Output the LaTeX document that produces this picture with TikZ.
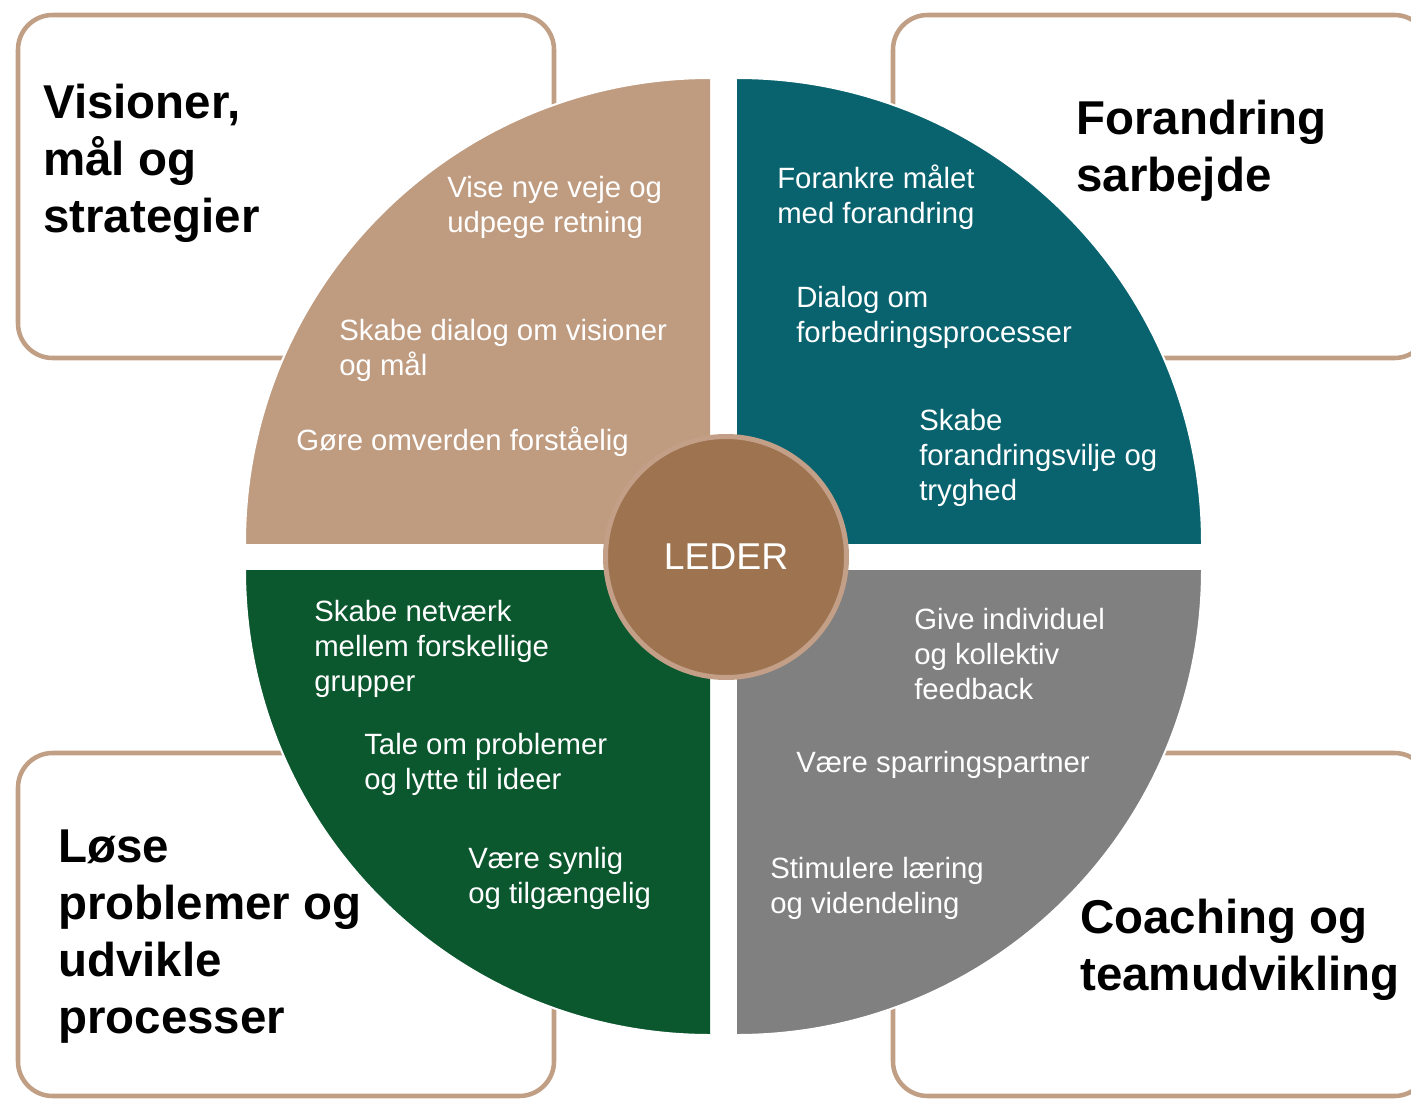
\documentclass[tikz,border=0pt]{standalone}
\usepackage{fontspec}
\setmainfont{Liberation Sans}
\usepackage{xcolor}
\usepackage{tikz}
\usetikzlibrary{positioning}
\definecolor{visionbrun}{HTML}{BF9B80}
\definecolor{forandringteal}{HTML}{08636F}
\definecolor{loesegroen}{HTML}{0B572E}
\definecolor{coachgraa}{HTML}{808080}
\definecolor{lederbrun}{HTML}{9E7350}
\definecolor{kantbrun}{HTML}{C29F86}
\definecolor{rammebrun}{HTML}{C19F85}

\begin{document}
\begin{tikzpicture}[
    x=0.75pt, y=-0.75pt,
    ramme/.style={rectangle, draw=rammebrun, line width=3.4pt, rounded corners=26pt,
        minimum width=402pt, minimum height=257.25pt, inner sep=0},
    kvadrant/.style={draw=white, line width=1.5pt},
    leder/.style={circle, fill=lederbrun, draw=kantbrun, line width=3.75pt,
        minimum size=180.75pt, inner sep=0, text=white, font=\fontsize{28}{33}\selectfont},
    punkt/.style={text=white, align=left, anchor=base west, inner sep=0,
        font=\fontsize{22}{26.25}\selectfont},
    overskrift/.style={text=black, align=left, anchor=base west, inner sep=0,
        font=\fontsize{35.6}{42.75}\selectfont\bfseries}]
\useasboundingbox (0,0) rectangle (1411,1099);
\clip (0,0) rectangle (1411,1099);

% rammer bag cirklen
\node[ramme] (visionramme)    at (286,186.5)  {};
\node[ramme] (forandrramme)   at (1161,186.5) {};
\node[ramme] (loeseramme)     at (286,924.5)  {};
\node[ramme] (coachramme)     at (1161,924.5) {};

% de fire kvadranter
\begin{scope}
\clip (238,71) rectangle (710,543);
\path[kvadrant, fill=visionbrun] (710,543) circle[radius=465];
\end{scope}
\begin{scope}
\clip (737,71) rectangle (1209,543);
\path[kvadrant, fill=forandringteal] (737,543) circle[radius=465];
\end{scope}
\begin{scope}
\clip (238,570) rectangle (710,1042);
\path[kvadrant, fill=loesegroen] (710,570) circle[radius=465];
\end{scope}
\begin{scope}
\clip (737,570) rectangle (1209,1042);
\path[kvadrant, fill=coachgraa] (737,570) circle[radius=465];
\end{scope}

\node[leder] (leder) at (726,557) {LEDER};

% overskrifter (ankret ved sidste linjes grundlinje)
\node[overskrift] (visionoverskrift)  at (43,232)   {Visioner,\\mål og\\strategier};
\node[overskrift] (forandroverskrift) at (1076,191)  {Forandring\\sarbejde};
\node[overskrift] (loeseoverskrift)   at (58,1033)  {Løse\\problemer og\\udvikle\\processer};
\node[overskrift] (coachoverskrift)   at (1080,990)  {Coaching og\\teamudvikling};

% punkter
\node[punkt] (vise)      at (447,232) {Vise nye veje og\\udpege retning};
\node[punkt] (dialogvis) at (339,375) {Skabe dialog om visioner\\og mål};
\node[punkt] (omverden)  at (296,450) {Gøre omverden forståelig};

\node[punkt] (forankre)  at (777,223) {Forankre målet\\med forandring};
\node[punkt] (dialogfor) at (796,342) {Dialog om\\forbedringsprocesser};
\node[punkt] (vilje)     at (919,500) {Skabe\\forandringsvilje og\\tryghed};

\node[punkt] (netvaerk)  at (314,691) {Skabe netværk\\mellem forskellige\\grupper};
\node[punkt] (tale)      at (364,789) {Tale om problemer\\og lytte til ideer};
\node[punkt] (synlig)    at (468,903) {Være synlig\\og tilgængelig};

\node[punkt] (feedback)  at (914,699) {Give individuel\\og kollektiv\\feedback};
\node[punkt] (sparring)  at (796,772) {Være sparringspartner};
\node[punkt] (laering)   at (770,913) {Stimulere læring\\og videndeling};

\end{tikzpicture}
\end{document}
